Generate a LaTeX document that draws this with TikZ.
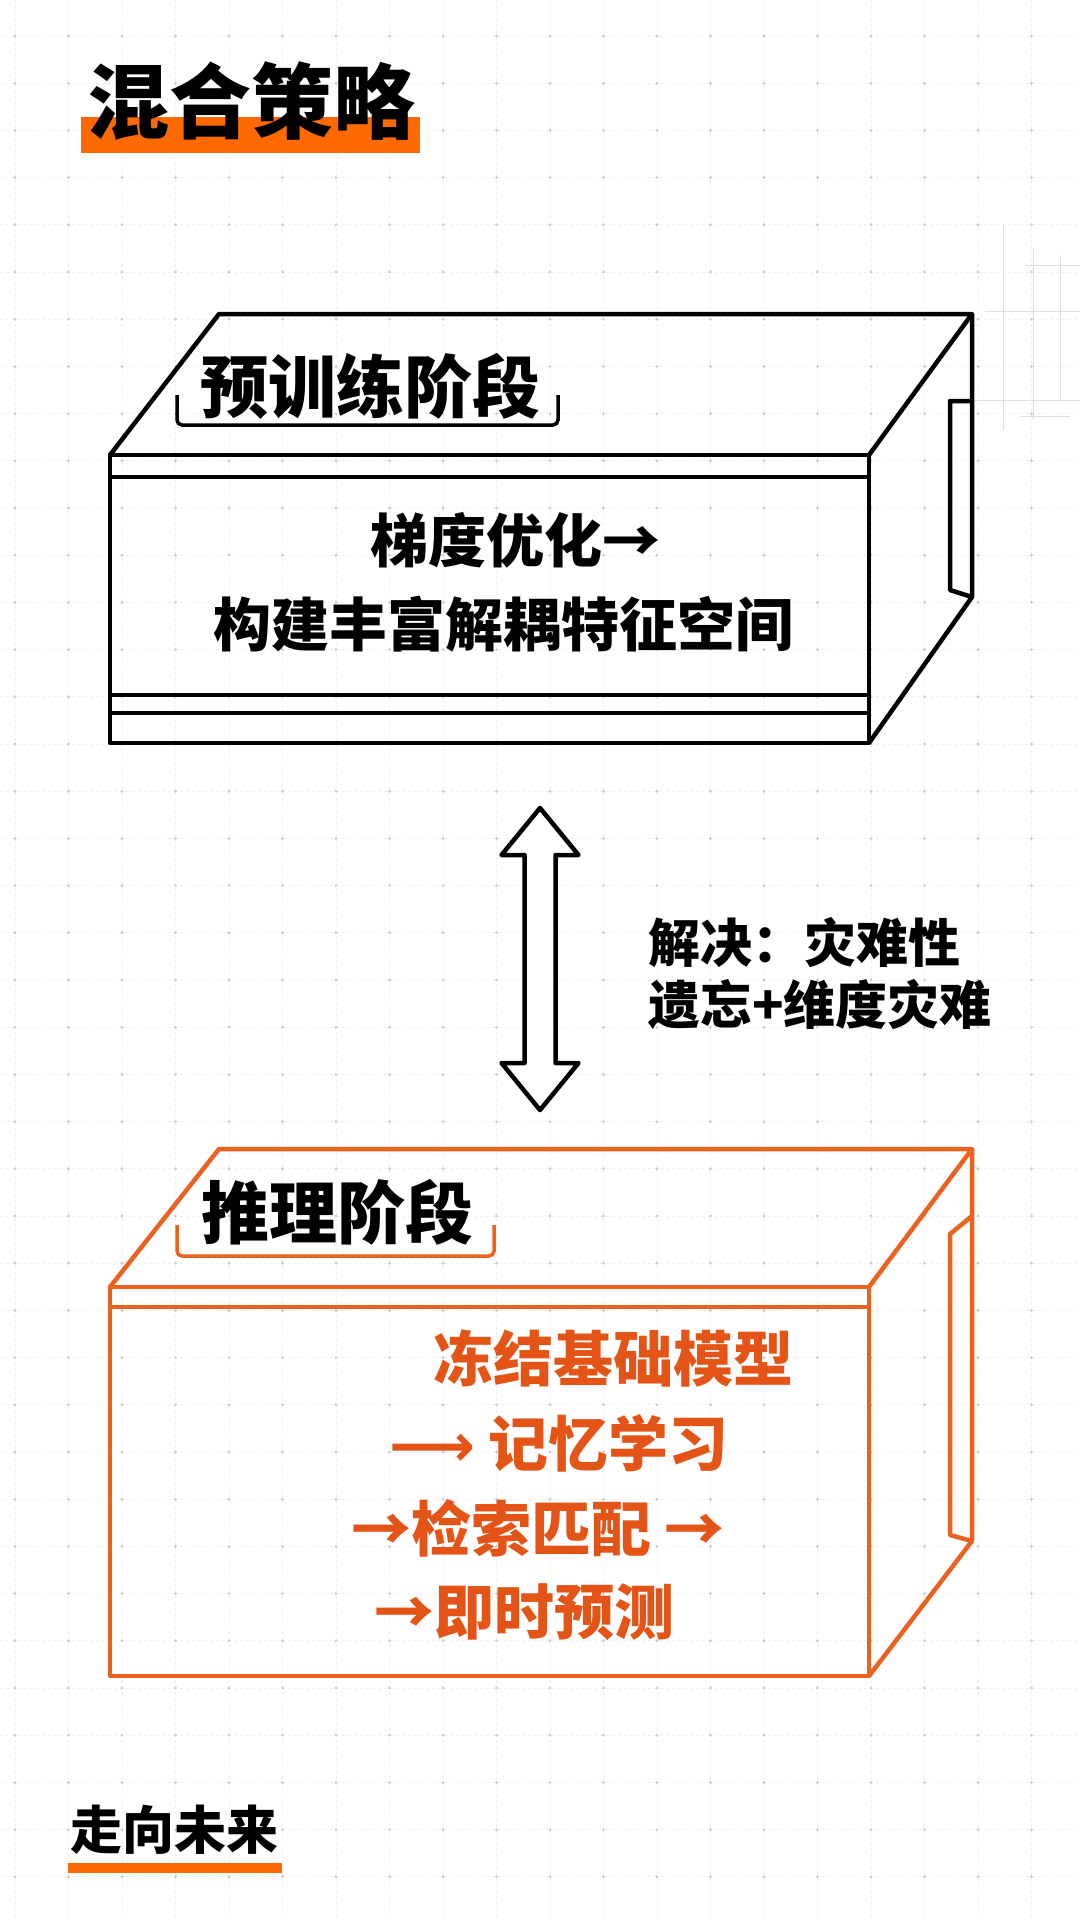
\documentclass[tikz,border=0pt]{standalone}
\usepackage{fontspec}
\newfontfamily\cjk{Noto Sans CJK SC}
\newfontfamily\symfont{DejaVu Sans}
\definecolor{barorange}{RGB}{255,106,0}
\definecolor{boxorange}{RGB}{234,98,32}
\definecolor{txtorange}{RGB}{228,84,22}
\begin{document}
\begin{tikzpicture}[x=1pt,y=-1pt,
    gridline/.style={gray!12,line width=0.8pt,dash pattern=on 3pt off 3pt},
    gridpt/.style={fill=gray!40},
    sketch/.style={gray!25,line width=1pt},
    boxline/.style={line width=4.5pt,line join=round},
    bracket/.style={line width=3.5pt,rounded corners=5pt},
    heading/.style={inner sep=0,font=\cjk\bfseries\fontsize{82}{90}\selectfont},
    stage/.style={inner sep=0,font=\cjk\bfseries\fontsize{68}{74}\selectfont},
    body/.style={inner sep=0,font=\cjk\bfseries\fontsize{58}{66}\selectfont},
    stepline/.style={inner sep=0,anchor=west,text=txtorange,font=\cjk\bfseries\fontsize{60}{66}\selectfont},
    note/.style={inner sep=0,anchor=west,align=left,font=\cjk\bfseries\fontsize{52}{62}\selectfont}]
    \useasboundingbox[fill=white] (0,0) rectangle (1080,1920);
    % background grid
    \foreach \i in {0,...,20} \draw[gridline] ({15+53.5*\i},0) -- ({15+53.5*\i},1920);
    \foreach \j in {0,...,40} \draw[gridline] (0,{36+47.2*\j}) -- (1080,{36+47.2*\j});
    \foreach \i in {0,...,20} \foreach \j in {0,...,40} \fill[gridpt] ({15+53.5*\i},{36+47.2*\j}) circle (1.6);
    \draw[sketch] (1003,225) -- (1003,430) (1033,250) -- (1033,420) (1060,255) -- (1060,400);
    \draw[sketch] (1025,265) -- (1080,265) (985,311) -- (1080,311) (972,400) -- (1080,400) (1020,416) -- (1070,416);
    % title
    \fill[barorange] (81,117) rectangle (420,153);
    \node[heading] (title) at (251,101) {混合策略};
    % pre-training box
    \draw[boxline] (110,455) rectangle (869,743);
    \draw[boxline] (110,455) -- (219,314) -- (972,314) -- (869,455);
    \draw[boxline] (972,314) -- (972,597) -- (869,743);
    \draw[boxline] (110,477) -- (869,477) (110,695) -- (869,695) (110,713) -- (869,713);
    \draw[boxline] (972,401) -- (950,401) -- (950,590) -- (972,597);
    \node[stage] (pre) at (370,386) {预训练阶段};
    \draw[bracket] (177,395) -- (177,425) -- (558,425) -- (558,395);
    \node[body] (grad) at (515,540) {梯度优化→};
    \node[body] (space) at (503,624) {构建丰富解耦特征空间};
    % double arrow
    \draw[boxline,fill=white] (540,808) -- (578.5,855) -- (555.5,855) -- (555.5,1063) -- (578.5,1063) -- (540,1110)
        -- (501.5,1063) -- (524.5,1063) -- (524.5,855) -- (501.5,855) -- cycle;
    \node[note] (fix) at (648,974) {解决：灾难性\\遗忘+维度灾难};
    % inference box
    \begin{scope}[draw=boxorange]
    \draw[boxline,boxorange] (110,1287) rectangle (869,1676);
    \draw[boxline,boxorange] (110,1287) -- (219,1149) -- (972,1149) -- (869,1287);
    \draw[boxline,boxorange] (972,1149) -- (972,1541) -- (869,1676);
    \draw[boxline,boxorange] (110,1307) -- (869,1307);
    \draw[boxline,boxorange] (972,1216) -- (950,1234) -- (950,1535) -- (972,1541);
    \draw[bracket,boxorange] (177,1225) -- (177,1256) -- (494,1256) -- (494,1225);
    \end{scope}
    \node[stage] (inf) at (337,1212) {推理阶段};
    \node[stepline] (freeze) at (433,1359) {冻结基础模型};
    \node[stepline] (memo) at (389,1443) {{\symfont ⟶} 记忆学习};
    \node[stepline] (match) at (351,1528) {→检索匹配 →};
    \node[stepline] (pred) at (374,1612) {→即时预测};
    % footer
    \fill[barorange] (68,1863) rectangle (282,1873);
    \node[note,anchor=center] (future) at (174,1830) {走向未来};
\end{tikzpicture}
\end{document}
